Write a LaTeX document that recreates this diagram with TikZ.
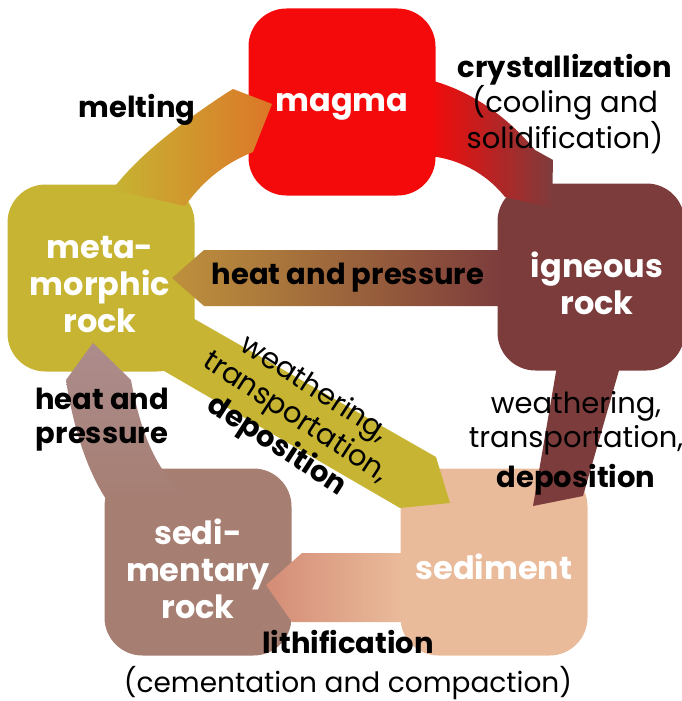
\documentclass[tikz,border=0pt]{standalone}
\usepackage{fontspec}
\setmainfont{Poppins}
\usepackage{tikz}

\definecolor{magmared}{RGB}{244,10,10}
\definecolor{igneous}{RGB}{125,60,60}
\definecolor{metamorphic}{RGB}{198,180,50}
\definecolor{sedrock}{RGB}{166,126,114}
\definecolor{sediment}{RGB}{234,187,155}
\definecolor{meltorange}{RGB}{220,118,40}
\definecolor{heattan}{RGB}{190,145,60}
\definecolor{lithsalmon}{RGB}{212,140,118}
\definecolor{mauvelight}{RGB}{172,140,140}

\begin{document}
\begin{tikzpicture}[x=1pt, y=-1pt,
        rockbox/.style={rounded corners=38pt, minimum width=187pt, minimum height=187pt, inner sep=0pt},
        rocktext/.style={text=white, align=center, inner sep=0pt, font=\fontsize{32}{37}\selectfont\bfseries},
        steptext/.style={align=center, inner sep=0pt, font=\fontsize{29}{34}\selectfont},
        stepbold/.style={steptext, font=\fontsize{29}{34}\selectfont\bfseries}]
    \useasboundingbox (0,0) rectangle (682,701);
    % the five stages
    \node[rockbox, fill=magmared] (magma) at (342,102) {};
    \node[rockbox, fill=igneous] (igneous) at (591,277) {};
    \node[rockbox, fill=metamorphic] (meta) at (101,278) {};
    \node[rockbox, fill=sedrock] (sedrock) at (198,562) {};
    \node[rockbox, fill=sediment] (sediment) at (494,562) {};
    % melting
    \shade[left color=metamorphic, right color=meltorange] (112,190) .. controls (135,160) and (170,130) .. (228,92) -- (233,89) -- (272,104) -- (253,152) .. controls (228,162) and (205,178) .. (185,206) -- cycle;
    % crystallization
    \shade[left color=magmared, right color=igneous] (430,80) .. controls (475,92) and (510,120) .. (535,150) -- (553,160) -- (552,208) -- (505,197) .. controls (490,178) and (465,160) .. (430,156) -- cycle;
    % heat and pressure
    \shade[left color=heattan, right color=igneous] (502,250) -- (204,250) -- (172,278) -- (204,306) -- (502,306) -- cycle;
    % weathering
    \fill[igneous] (558,360) -- (622,360) -- (583,496) -- (533,506) -- cycle;
    \fill[metamorphic] (170,305) -- (436,457) -- (450,503) -- (400,508) -- (128,350) -- cycle;
    % burial
    \shade[top color=mauvelight, bottom color=sedrock] (93,343) -- (131,380) .. controls (140,430) and (155,470) .. (185,495) -- (110,505) .. controls (85,470) and (72,420) .. (66,380) -- cycle;
    % lithification
    \shade[left color=lithsalmon, right color=sediment] (402,553) -- (302,553) -- (266,585) -- (292,622) -- (402,622) -- cycle;

    \node[rocktext] (magma-t) at (342,107) {magma};
    \node[rocktext] (igneous-t) at (597,283) {igneous\\rock};
    \node[rocktext] (meta-t) at (100,285) {meta-\\morphic\\rock};
    \node[rocktext] (sedrock-t) at (198,569) {sedi-\\mentary\\rock};
    \node[rocktext] (sediment-t) at (494,567) {sediment};

    \node[stepbold] (melting) at (137,110) {melting};
    \node[steptext] (cryst) at (565,104) {\textbf{crystallization}\\(cooling and\\solidification)};
    \node[stepbold] (heat) at (348,278) {heat and pressure};
    \node[steptext, rotate=-33] (weather-a) at (295,418) {weathering,\\transportation,\\\textbf{deposition}};
    \node[steptext] (weather-b) at (576,443) {weathering,\\transportation,\\[6pt]\textbf{deposition}};
    \node[stepbold] (burial) at (102,420) {heat and\\pressure};
    \node[stepbold] (lith) at (348,642) {lithification};
    \node[steptext, font=\fontsize{28}{33}\selectfont] (cement) at (348,683) {(cementation and compaction)};
\end{tikzpicture}
\end{document}
